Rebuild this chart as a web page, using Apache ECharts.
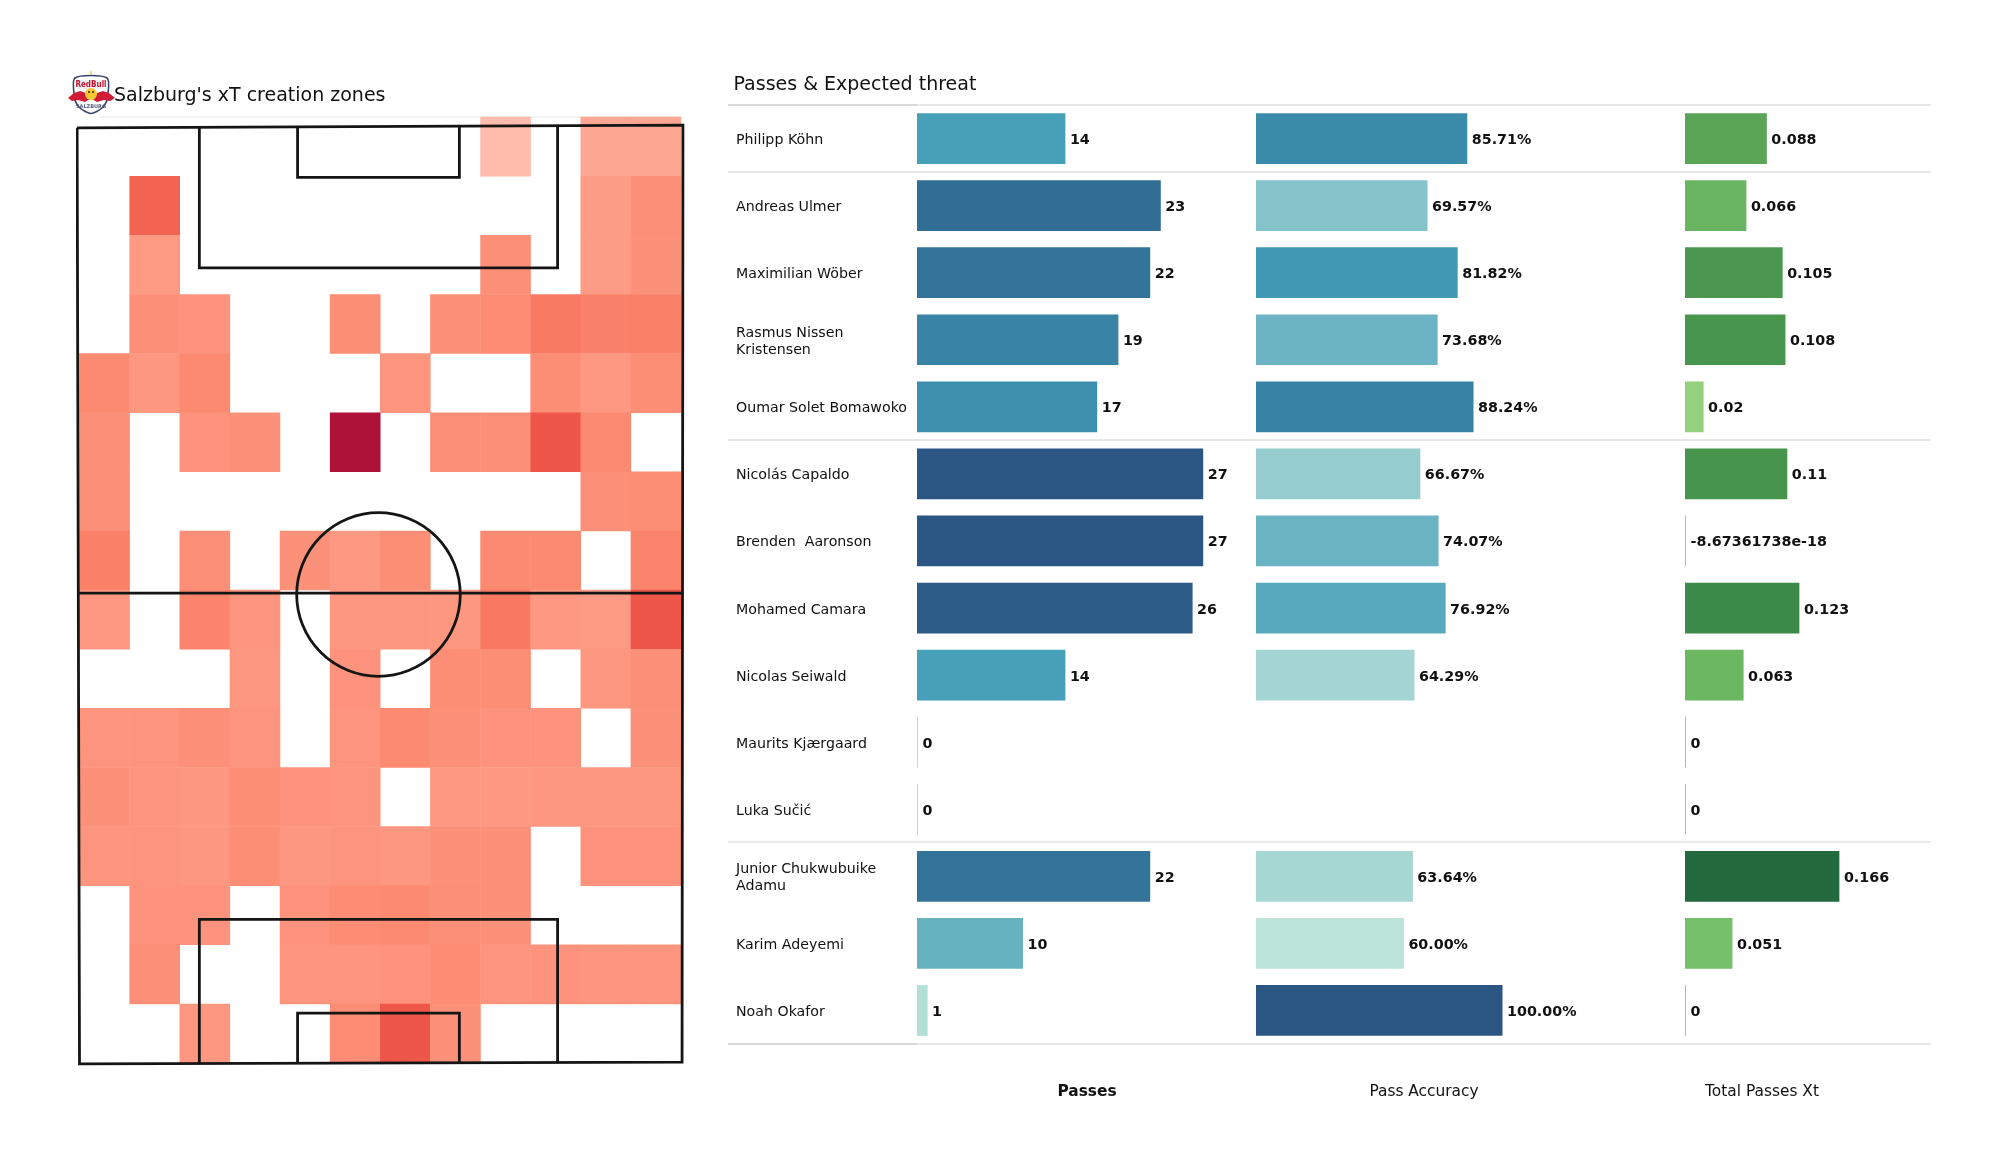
<!DOCTYPE html>
<html>
<head>
<meta charset="utf-8">
<style>html,body{margin:0;padding:0;background:#fff}#c{width:2000px;height:1175px}</style>
<script src="https://cdn.jsdelivr.net/npm/echarts@6/dist/echarts.min.js"></script>
</head>
<body>
<div id="c"></div>
<script>
// ---- Player table ----
const players = ["Philipp Köhn","Andreas Ulmer","Maximilian Wöber","Rasmus Nissen\nKristensen","Oumar Solet Bomawoko","Nicolás Capaldo","Brenden  Aaronson","Mohamed Camara","Nicolas Seiwald","Maurits Kjærgaard","Luka Sučić","Junior Chukwubuike\nAdamu","Karim Adeyemi","Noah Okafor"];
const passes = [14,23,22,19,17,27,27,26,14,0,0,22,10,1];
const passAccuracy = [85.71,69.57,81.82,73.68,88.24,66.67,74.07,76.92,64.29,null,null,63.64,60.00,100.00];
const totalXt = [0.088,0.066,0.105,0.108,0.02,0.11,-8.67361738e-18,0.123,0.063,0,0,0.166,0.051,0];

// ---- xT creation heat grid, rows top to bottom, 12 columns; null = no value ----
const _ = null;
const xtRows = [
 [_,_,_,_,_,_,_,_,.0100,_,.0170,.0170],
 [_,.0440,_,_,_,_,_,_,_,_,.0200,.0270],
 [_,.0210,_,_,_,_,_,_,.0270,_,.0200,.0260],
 [_,.0270,.0250,_,_,.0280,_,.0260,.0290,.0360,.0330,.0340],
 [.0300,.0230,.0300,_,_,_,.0240,_,_,.0280,.0220,.0280],
 [.0260,_,.0250,.0260,_,.1000,_,.0270,.0270,.0480,.0300,_],
 [.0260,_,_,_,_,_,_,_,_,_,.0270,.0280],
 [.0340,_,.0270,_,.0260,.0220,.0280,_,.0300,.0300,_,.0320],
 [.0220,_,.0320,.0240,_,.0230,.0230,.0230,.0370,.0220,.0210,.0480],
 [_,_,_,.0230,_,.0250,_,.0280,.0280,_,.0230,.0270],
 [.0240,.0240,.0270,.0240,_,.0240,.0300,.0270,.0250,.0250,_,.0260],
 [.0260,.0240,.0230,.0280,.0250,.0240,_,.0220,.0220,.0230,.0230,.0230],
 [.0240,.0240,.0230,.0280,.0230,.0240,.0230,.0260,.0260,_,.0250,.0250],
 [_,.0250,.0250,_,.0250,.0290,.0300,.0270,.0260,_,_,_],
 [_,.0270,_,_,.0240,.0240,.0250,.0290,.0240,.0250,.0240,.0240],
 [_,_,.0230,_,_,.0290,.0480,.0260,_,_,_,_]
];
const heatColours = ['#fdbcac','#fd9c86','#fc8a71','#f6705a','#ec4f45','#e03c3c','#d02c3c','#c0203a','#b4163a','#ae1238'];

// ---- Pitch markings, in metres on a 68 x 105 pitch ----
const pitchOutline = [[-0.1,0.2],[68.05,-0.1],[67.95,104.9],[0.17,105.1],[-0.1,0.2]];
const halfway = [[0,52.35],[68,52.35]];
const topBox = [[13.65,0],[13.65,15.9],[53.95,15.9],[53.95,0]];
const topSix = [[24.7,0],[24.7,5.75],[42.9,5.75],[42.9,0]];
const bottomBox = [[13.65,105],[13.65,88.9],[53.95,88.9],[53.95,105]];
const bottomSix = [[24.7,105],[24.7,99.4],[42.9,99.4],[42.9,105]];
const centreSpot = [33.8,52.5];
const centreRadius = 9.2;

const rowCols = Array.from({length:12},(_,i)=>String(i));
const rowIdx = Array.from({length:16},(_,i)=>String(i));
const heatData = [];
xtRows.forEach((r,y)=>r.forEach((v,x)=>{ if(v!==null) heatData.push([x,y,v]); }));

const pitchLine = d => ({type:'line',xAxisIndex:1,yAxisIndex:1,data:d,symbol:'none',silent:true,clip:false,z:5,
  lineStyle:{color:'#151515',width:2.8,join:'miter'}});

const ROW_TOP=105, ROW_H=939;
const font='"DejaVu Sans"';
const barBase={type:'bar',barWidth:50.7,z:3};
const lab=(fmt)=>({show:true,position:'right',distance:4.5,offset:[0,1.8],fontFamily:font,fontSize:14.3,fontWeight:'bold',color:'#111',formatter:fmt});
const hideX=(i,name,max,bold)=>({type:'value',gridIndex:i,min:0,max:max,show:true,
  axisLine:{show:false},axisTick:{show:false},axisLabel:{show:false},splitLine:{show:false},
  name:name,nameLocation:'middle',nameGap:40,nameTextStyle:{fontFamily:font,fontSize:15.4,color:'#111',fontWeight:bold?'bold':'normal'}});
const catY=(i,labels)=>({type:'category',gridIndex:i,data:players,inverse:true,
  axisLine:{show:false},axisTick:{show:false},
  axisLabel:labels?{show:true,align:'left',margin:181,fontFamily:font,fontSize:14.2,lineHeight:17,color:'#111',interval:0}:{show:false}});

// rule lines in the table
const rules=[105,172,440,842,1044];
const graphics=[];
rules.forEach((y,i)=>{
  graphics.push({type:'line',shape:{x1:728,y1:y,x2:1931,y2:y},style:{stroke:'#e0e0e0',lineWidth:1.5},silent:true});
  if(i===0||i===4) graphics.push({type:'line',shape:{x1:728,y1:y,x2:917,y2:y},style:{stroke:'#d4d4d4',lineWidth:1.5},silent:true});
});
graphics.push({type:'line',shape:{x1:100,y1:117,x2:681,y2:117},style:{stroke:'#e6e6e6',lineWidth:1},silent:true});

// crest
graphics.push({type:'group',x:0,y:0,silent:true,children:[
  {type:'polygon',shape:{points:[[91,70],[92.2,72.5],[91,75],[89.8,72.5]]},style:{fill:'#f1d66a'}},
  {type:'polygon',z:1,shape:{smooth:0.25,points:[[75,78],[107,78],[107,100],[102,108],[91,113.5],[80,108],[75,100]]},style:{fill:'#fff',stroke:'#39416b',lineWidth:1.6}},
  {type:'rect',z:2,shape:{x:77,y:80,width:28,height:9},style:{fill:'#eef0f6'}},
  {type:'text',z:3,style:{x:91,y:84.5,text:'RedBull',fill:'#c9152f',font:'bold 8px "DejaVu Sans Condensed","Liberation Sans Narrow",sans-serif',align:'center',verticalAlign:'middle'}},
  {type:'polygon',z:4,shape:{points:[[68,98],[74,93],[80,91],[86,93],[90,99],[85,102],[78,100],[72,101]]},style:{fill:'#d01c35'}},
  {type:'polygon',z:4,shape:{points:[[115,98],[109,93],[103,91],[97,93],[92,99],[97,102],[104,100],[110,101]]},style:{fill:'#d01c35'}},
  {type:'circle',z:5,shape:{cx:91,cy:94,r:6},style:{fill:'#f5c731'}},
  {type:'circle',z:6,shape:{cx:89,cy:92,r:1},style:{fill:'#2a2a2a'}},
  {type:'circle',z:6,shape:{cx:93,cy:92,r:1},style:{fill:'#2a2a2a'}},
  {type:'text',z:3,style:{x:91,y:107,text:'SALZBURG',fill:'#555b7a',font:'bold 5px "DejaVu Sans",sans-serif',align:'center',verticalAlign:'middle'}}
]});

const option={
  backgroundColor:'#fff',
  animation:false,
  title:[
    {text:"Salzburg's xT creation zones",left:114,top:86.5,padding:0,textStyle:{fontFamily:font,fontSize:19,fontWeight:'normal',color:'#111'}},
    {text:"Passes & Expected threat",left:733.5,top:76,padding:0,textStyle:{fontFamily:font,fontSize:19,fontWeight:'normal',color:'#111'}}
  ],
  grid:[
    {left:79.5,top:117,width:601.5,height:946},
    {left:78,top:126,width:604.5,height:937},
    {left:917,top:ROW_TOP,width:340,height:ROW_H},
    {left:1256,top:ROW_TOP,width:336,height:ROW_H},
    {left:1685,top:ROW_TOP,width:154,height:ROW_H},
    {left:917,top:ROW_TOP+1.8,width:340,height:ROW_H}
  ],
  xAxis:[
    {type:'category',gridIndex:0,data:rowCols,show:false},
    {type:'value',gridIndex:1,min:0,max:68,show:false},
    hideX(2,'Passes',340/10.6,true),
    hideX(3,'Pass Accuracy',336/2.465,false),
    hideX(4,'Total Passes Xt',154/930,false),
    {type:'value',gridIndex:5,min:0,max:1,show:false}
  ],
  yAxis:[
    {type:'category',gridIndex:0,data:rowIdx,inverse:true,show:false},
    {type:'value',gridIndex:1,min:0,max:105,inverse:true,show:false},
    catY(2,false),catY(3,false),catY(4,false),catY(5,true)
  ],
  visualMap:[
    {type:'continuous',show:false,seriesIndex:0,dimension:2,min:0.01,max:0.10,inRange:{color:heatColours}},
    {type:'continuous',show:false,seriesIndex:8,dimension:0,min:1,max:27,inRange:{color:['#b2dfd6','#7abec4','#45a0b8','#357ca0','#2b5583']},outOfRange:{color:'#d6e6e2'}},
    {type:'continuous',show:false,seriesIndex:9,dimension:0,min:60,max:100,inRange:{color:['#bce4d8','#83c1c9','#459fb8','#317ca0','#2b5583']}},
    {type:'continuous',show:false,seriesIndex:10,dimension:0,min:0.02,max:0.166,inRange:{color:['#93d17f','#70bc66','#55a052','#368648','#22693d']},outOfRange:{color:'#d9d9d9'}}
  ],
  series:[
    {type:'heatmap',xAxisIndex:0,yAxisIndex:0,data:heatData,silent:true,z:1,itemStyle:{borderWidth:0}},
    pitchLine(pitchOutline),pitchLine(halfway),pitchLine(topBox),pitchLine(topSix),pitchLine(bottomBox),pitchLine(bottomSix),
    {type:'custom',xAxisIndex:1,yAxisIndex:1,data:[[centreSpot[0],centreSpot[1],centreRadius]],silent:true,clip:false,z:5,
      renderItem:(p,api)=>{
        const c=api.coord([api.value(0),api.value(1)]);
        const s=api.size([api.value(2),api.value(2)]);
        return {type:'circle',shape:{cx:c[0],cy:c[1],r:s[0]},style:{fill:'none',stroke:'#151515',lineWidth:2.8}};
      }},
    Object.assign({},barBase,{xAxisIndex:2,yAxisIndex:2,data:passes,barMinHeight:1,label:lab(p=>`${p.value}`)}),
    Object.assign({},barBase,{xAxisIndex:3,yAxisIndex:3,data:passAccuracy,label:lab(p=>p.value==null?'':p.value.toFixed(2)+'%')}),
    Object.assign({},barBase,{xAxisIndex:4,yAxisIndex:4,data:totalXt,barMinHeight:1,clip:false,label:lab(p=>`${p.value}`)})
  ],
  graphic:graphics
};
const chart=echarts.init(document.getElementById('c'),null,{renderer:'canvas'});
chart.setOption(option);
</script>
</body>
</html>
